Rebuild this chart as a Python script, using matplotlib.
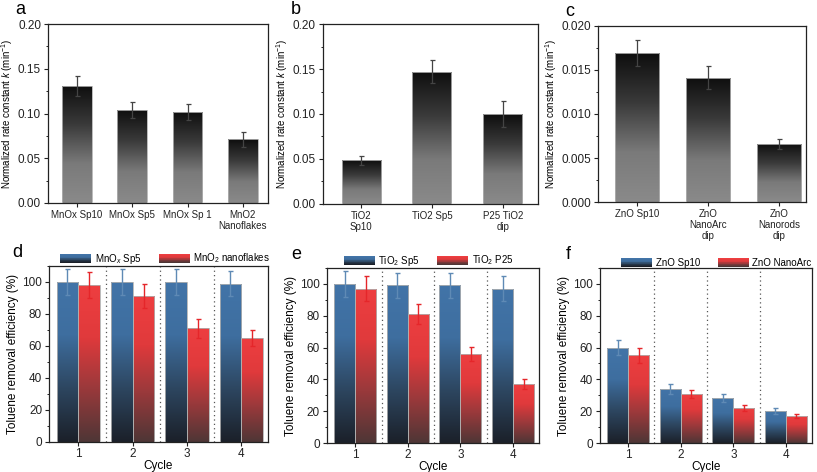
import numpy as np
import matplotlib
matplotlib.use('Agg')
import matplotlib.pyplot as plt
from matplotlib.colors import LinearSegmentedColormap
from matplotlib.patches import Rectangle
from matplotlib.legend_handler import HandlerPatch
from matplotlib.ticker import AutoMinorLocator

plt.rcParams['font.family'] = ['Liberation Sans', 'DejaVu Sans']
plt.rcParams['mathtext.fontset'] = 'custom'
plt.rcParams['mathtext.rm'] = 'Liberation Sans'
plt.rcParams['mathtext.it'] = 'Liberation Sans:italic'

# ---- data (top row: rate constants) ----
a_labels = ['MnOx Sp10', 'MnOx Sp5', 'MnOx Sp 1', 'MnO2\nNanoflakes']
a_k = [0.131, 0.104, 0.102, 0.071]
a_err = [0.011, 0.009, 0.009, 0.008]

b_labels = ['TiO2\nSp10', 'TiO2 Sp5', 'P25 TiO2\ndip']
b_k = [0.0485, 0.147, 0.100]
b_err = [0.005, 0.013, 0.015]

c_labels = ['ZnO Sp10', 'ZnO\nNanoArc\ndip', 'ZnO\nNanorods\ndip']
c_k = [0.0169, 0.0141, 0.0066]
c_err = [0.0015, 0.0013, 0.0006]

# ---- data (bottom row: cycling) ----
cycles = [1, 2, 3, 4]
d_sp5 = [100, 100, 100, 99]
d_sp5_err = [8, 8, 8, 8]
d_flakes = [98, 91, 71, 65]
d_flakes_err = [8, 7.5, 6, 5]

e_sp5 = [100, 99, 99, 97]
e_sp5_err = [8, 8, 8, 8]
e_p25 = [97, 81, 56, 37]
e_p25_err = [8, 6.5, 4.5, 3]

f_sp10 = [60, 34, 28, 20]
f_sp10_err = [5, 3, 2.5, 2]
f_arc = [55, 31, 22, 17]
f_arc_err = [4.5, 2.5, 2, 1.5]

gray_cm = LinearSegmentedColormap.from_list('g', ['#8a8a8a', '#7a7a7a', '#3a3a3a', '#0e0e0e'])
blue_cm = LinearSegmentedColormap.from_list('b', ['#1b2029', '#2d4660', '#3e6e9f', '#4274a8'])
red_cm = LinearSegmentedColormap.from_list('r', ['#4e3636', '#98393b', '#e03a3c', '#ee3e40'])


def grad_bars(ax, x, h, w, cmap, edge='#b0b0b0'):
    bars = ax.bar(x, h, w, facecolor='none', edgecolor=edge, linewidth=0.6, zorder=3)
    grad = np.linspace(0, 1, 256).reshape(-1, 1)
    for b in bars:
        x0, y0 = b.get_x(), b.get_y()
        im = ax.imshow(grad, cmap=cmap, origin='lower', aspect='auto',
                       extent=(x0, x0 + b.get_width(), y0, y0 + b.get_height()), zorder=2)
        im.set_clip_path(b)
    return bars


class GradHandler(HandlerPatch):
    def __init__(self, cmap):
        super().__init__()
        self.cmap = cmap

    def create_artists(self, legend, orig_handle, xdescent, ydescent, width, height, fontsize, trans):
        arts = []
        n = 12
        for i in range(n):
            r = Rectangle((-xdescent, -ydescent + height * i / n), width, height / n + 0.3,
                          facecolor=self.cmap(i / (n - 1)), edgecolor='none', transform=trans)
            arts.append(r)
        return arts


def style_ax(ax, size):
    for s in ax.spines.values():
        s.set_color('#222222')
        s.set_linewidth(0.9)
    ax.tick_params(direction='out', length=3, width=0.8, colors='#222222', labelsize=size, pad=2)
    ax.tick_params(which='minor', direction='out', length=1.8, width=0.7, colors='#222222')
    ax.yaxis.set_minor_locator(AutoMinorLocator(2))


fig = plt.figure(figsize=(8.17, 4.72), dpi=100)

# top row
top = [
    ('a', [0.0588, 0.570, 0.269, 0.379], a_labels, a_k, a_err, 0.54, (0.48, 4.45), 0.20, [0, 0.05, 0.10, 0.15, 0.20], '%.2f'),
    ('b', [0.395, 0.568, 0.263, 0.381], b_labels, b_k, b_err, 0.55, (0.46, 3.49), 0.20, [0, 0.05, 0.10, 0.15, 0.20], '%.2f'),
    ('c', [0.732, 0.572, 0.2546, 0.373], c_labels, c_k, c_err, 0.62, (0.45, 3.38), 0.020, [0, 0.005, 0.010, 0.015, 0.020], '%.3f'),
]
for letter, pos, labels, k, err, w, xl, ymax, yt, fmt in top:
    ax = fig.add_axes(pos)
    x = np.arange(1, len(labels) + 1)
    grad_bars(ax, x, k, w, gray_cm)
    ax.errorbar(x, k, yerr=err, fmt='none', ecolor='#444444', elinewidth=0.9, capsize=1.8, capthick=0.9, zorder=4)
    ax.set_xlim(*xl)
    ax.set_ylim(0, ymax)
    ax.set_yticks(yt)
    ax.set_yticklabels([fmt % v for v in yt])
    ax.set_xticks(x)
    ax.set_xticklabels(labels, linespacing=1.1)
    ax.set_ylabel(r'Normalized rate constant $k$ (min$^{-1}$)', fontsize=7.0, labelpad=2)
    style_ax(ax, 8.5)
    ax.tick_params(axis='x', labelsize=7)
    ax.text(-0.15 if letter != 'c' else -0.16, 1.035, letter, transform=ax.transAxes, fontsize=13, va='bottom')

# bottom row
bottom = [
    ('d', [0.060, 0.0636, 0.268, 0.373], d_sp5, d_sp5_err, d_flakes, d_flakes_err,
     r'MnO$_x$ Sp5', r'MnO$_2$ nanoflakes', (0.46, 4.49), 0.53),
    ('e', [0.400, 0.0614, 0.2595, 0.371], e_sp5, e_sp5_err, e_p25, e_p25_err,
     r'TiO$_2$ Sp5', r'TiO$_2$ P25', (0.46, 4.49), 0.48),
    ('f', [0.734, 0.0614, 0.2595, 0.371], f_sp10, f_sp10_err, f_arc, f_arc_err,
     'ZnO Sp10', 'ZnO NanoArc', (0.46, 4.49), 0.55),
]
for letter, pos, v1, e1, v2, e2, l1, l2, xl, lx in bottom:
    ax = fig.add_axes(pos)
    x = np.array(cycles)
    w = 0.4
    grad_bars(ax, x - w / 2, v1, w, blue_cm)
    grad_bars(ax, x + w / 2, v2, w, red_cm)
    ax.errorbar(x - w / 2, v1, yerr=e1, fmt='none', ecolor='#5f8ab5', elinewidth=1.0, capsize=1.8, capthick=1.0, zorder=4)
    ax.errorbar(x + w / 2, v2, yerr=e2, fmt='none', ecolor='#e5262a', elinewidth=1.0, capsize=1.8, capthick=1.0, zorder=4)
    for xv in [1.5, 2.5, 3.5]:
        ax.axvline(xv, ls=(0, (1, 2.5)), color='#555555', lw=0.9, zorder=1)
    ax.set_xlim(*xl)
    ax.set_ylim(0, 110)
    ax.set_yticks([0, 20, 40, 60, 80, 100])
    ax.set_xticks(x)
    ax.set_xlabel('Cycle', fontsize=8.5, labelpad=0)
    ax.set_ylabel('Toluene removal efficiency (%)', fontsize=8.5, labelpad=2)
    style_ax(ax, 8.5)
    ax.tick_params(axis='x', pad=1.5)
    h1 = Rectangle((0, 0), 1, 1)
    h2 = Rectangle((0, 0), 1, 1)
    ax.legend([h1, h2], [l1, l2], handler_map={h1: GradHandler(blue_cm), h2: GradHandler(red_cm)},
              loc='lower center', bbox_to_anchor=(lx, 0.985), ncol=2, frameon=False,
              fontsize=7.0, handlelength=3.2, handleheight=1.0, columnspacing=1.8,
              handletextpad=0.35, borderaxespad=0.1, borderpad=0.2)
    ax.text(-0.17 if letter != 'f' else -0.16, 1.03, letter, transform=ax.transAxes, fontsize=13, va='bottom')

fig.savefig('out.png', dpi=100)
